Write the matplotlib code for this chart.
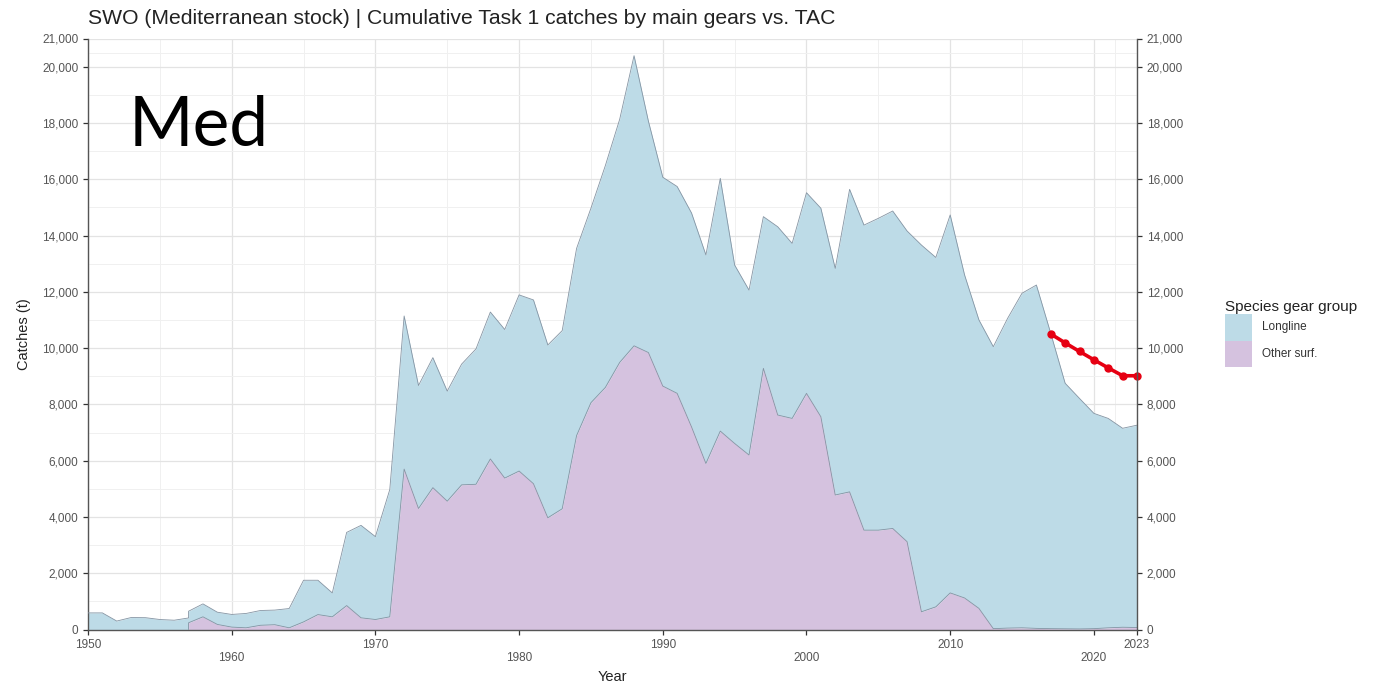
import numpy as np
import matplotlib.pyplot as plt
from matplotlib.patches import Patch
from matplotlib.ticker import FuncFormatter

plt.rcParams['font.family'] = ['Liberation Sans', 'DejaVu Sans']

# Task 1 catches (t) by gear group, Mediterranean swordfish
years = np.arange(1950, 2024)
longline = [590, 590, 300, 425, 420, 355, 330, 410, 460, 435,
            450, 510, 525, 520, 685, 1480, 1220, 850, 2600, 3285,
            2945, 4520, 5440, 4370, 4620, 3910, 4290, 4810, 5220, 5280,
            6260, 6530, 6140, 6330, 6650, 6910, 7880, 8640, 10310, 8220,
            7420, 7350, 7600, 7410, 8980, 6340, 5860, 5390, 6690, 6220,
            7130, 7410, 8050, 10750, 10840, 11080, 11280, 11040, 13030, 12415,
            13430, 11480, 10250, 10020, 11010, 11890, 12200, 10490, 8725, 8190,
            7650, 7440, 7070, 7190]
other_surf = [np.nan] * 7 + [
    240, 450, 180,
    85, 60, 150, 170, 60, 270, 530, 450, 850, 415,
    355, 450, 5700, 4300, 5040, 4560, 5140, 5160, 6060, 5380,
    5630, 5180, 3970, 4290, 6890, 8060, 8600, 9490, 10080, 9840,
    8650, 8390, 7200, 5900, 7050, 6610, 6200, 9280, 7620, 7500,
    8390, 7560, 4780, 4890, 3530, 3530, 3590, 3120, 630, 805,
    1300, 1120, 750, 30, 50, 60, 40, 30, 25, 20,
    30, 60, 80, 70]

# TAC
tac_years = [2017, 2018, 2019, 2020, 2021, 2022, 2023]
tac = [10500, 10185, 9879, 9583, 9295, 9016, 9016]

blue = '#bddbe7'
pink = '#d5c2df'
edge = '#8494a3'

fig = plt.figure(figsize=(13.83, 6.89), dpi=100)
W, H = 1383, 689
ax = fig.add_axes([88 / W, 1 - 629.5 / H, (1137 - 88) / W, (629.5 - 38.5) / H])

# stacking: Other surf. at the bottom, padded with a zero just before it starts
yrs = years.astype(float)
ll = np.array(longline, float)
os_ = np.array(other_surf, float)
first = int(np.argmax(~np.isnan(os_)))
x = np.insert(yrs, first, yrs[first] - 1e-3)
ll_x = np.interp(x, yrs, ll)
os_x = np.insert(np.nan_to_num(os_), first, 0.0)
top = ll_x + os_x

ax.fill_between(x, os_x, top, color=blue, lw=0, zorder=2)
ax.fill_between(x[first:], 0, os_x[first:], color=pink, lw=0, zorder=2)
ax.plot(x, top, color=edge, lw=0.6, zorder=3)
ax.plot(x[first:], os_x[first:], color=edge, lw=0.6, zorder=3)

ax.plot(tac_years, tac, color='#e60012', lw=2.6, marker='o', ms=5,
        zorder=5, clip_on=False)

ax.set_xlim(1950, 2023)
ax.set_ylim(0, 21000)

yt = list(range(0, 20001, 2000)) + [21000]
fmt = FuncFormatter(lambda v, p: f'{int(v):,}')
ax.set_yticks(yt)
ax.yaxis.set_major_formatter(fmt)
ax.set_yticks(list(range(1000, 20000, 2000)) + [20500], minor=True)

xt = [1950, 1960, 1970, 1980, 1990, 2000, 2010, 2020, 2023]
ax.set_xticks(xt)
ax.set_xticklabels([('\n' if i % 2 else '') + str(v) for i, v in enumerate(xt)])
ax.set_xticks([1955, 1965, 1975, 1985, 1995, 2005, 2015, 2021.5], minor=True)

ax.grid(True, which='major', color='#e3e3e3', lw=0.9, zorder=0)
ax.grid(True, which='minor', color='#f0f0f0', lw=0.7, zorder=0)
ax.set_axisbelow(True)

tick_kw = dict(colors='#333333', labelcolor='#555555', labelsize=8.5,
               length=3.5, width=0.9)
ax.tick_params(axis='both', which='major', **tick_kw)
ax.tick_params(axis='both', which='minor', length=0)
ax.tick_params(axis='x', pad=3)

for s in ['top', 'right']:
    ax.spines[s].set_visible(False)
for s in ['left', 'bottom']:
    ax.spines[s].set_color('#555555')
    ax.spines[s].set_linewidth(1.0)

# secondary axis on the right
ax2 = ax.twinx()
ax2.set_ylim(0, 21000)
ax2.set_yticks(yt)
ax2.yaxis.set_major_formatter(fmt)
ax2.tick_params(axis='y', **tick_kw)
for s in ['top', 'left', 'bottom']:
    ax2.spines[s].set_visible(False)
ax2.spines['right'].set_color('#555555')
ax2.spines['right'].set_linewidth(1.0)

ax.set_xlabel('Year', fontsize=10.5, color='#222222', labelpad=4)
ax.set_ylabel('Catches (t)', fontsize=10.5, color='#222222', labelpad=8)

fig.text(88 / W, 1 - 19 / H,
         'SWO (Mediterranean stock) | Cumulative Task 1 catches by main gears vs. TAC',
         fontsize=15.2, color='#222222', va='center', ha='left')

fig.text(129 / W, 1 - 127 / H, 'Med', fontsize=50, color='black',
         family=['Lato', 'DejaVu Sans'], va='center', ha='left')

handles = [Patch(facecolor=blue, label='Longline'),
           Patch(facecolor=pink, label='Other surf.')]
leg = fig.legend(handles=handles, title='Species gear group',
                 loc='upper left', bbox_to_anchor=(1214 / W, 1 - 289 / H),
                 frameon=False, fontsize=8.5, title_fontsize=11,
                 handlelength=2.3, handleheight=3.13, labelspacing=0,
                 handletextpad=0.9, alignment='left')
for t in leg.get_texts():
    t.set_color('#333333')
leg.get_title().set_color('#222222')

fig.savefig('out.png', dpi=100)
